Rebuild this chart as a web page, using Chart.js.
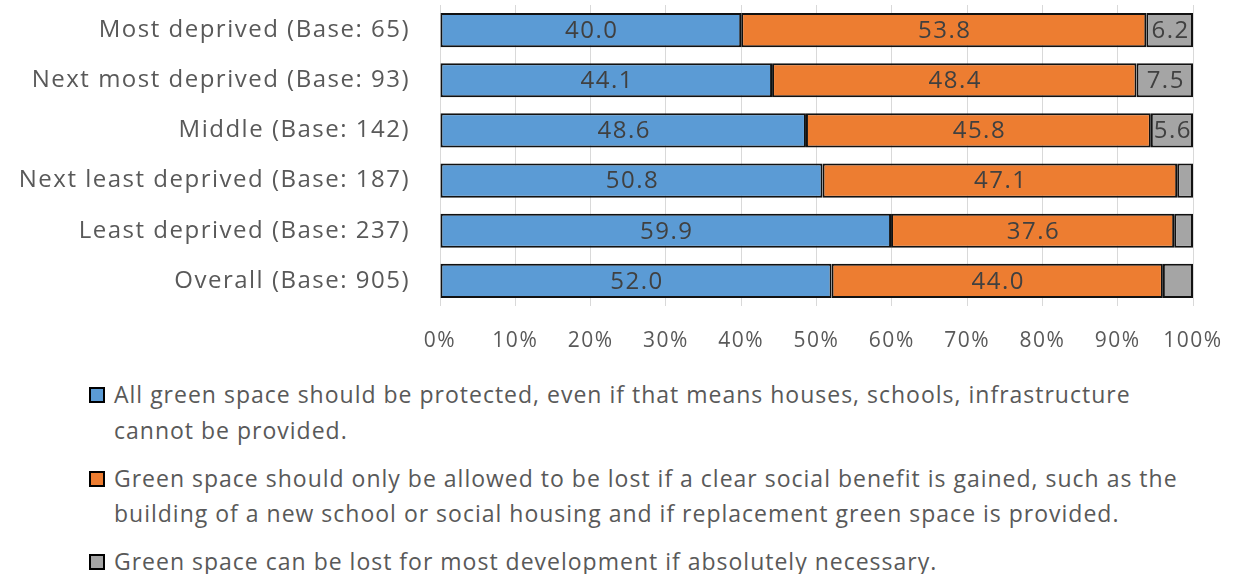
<!DOCTYPE html>
<html>
<head>
<meta charset="utf-8">
<script src="https://cdn.jsdelivr.net/npm/chart.js@4/dist/chart.umd.min.js"></script>
<style>
  html, body { margin: 0; padding: 0; background: #fff; }
  body { width: 1243px; height: 574px; overflow: hidden; font-family: "Open Sans", sans-serif; }
  #wrap { position: relative; width: 1243px; height: 362px; }
  #legend { position: absolute; left: 89px; top: 377px; color: #595959; font-size: 23px; line-height: 35.5px; letter-spacing: 1px; }
  .item { position: relative; padding-left: 25px; margin-bottom: 12.5px; white-space: nowrap; }
  .box { position: absolute; left: 0; top: 10px; width: 12px; height: 12px; border: 2px solid #000; }
</style>
</head>
<body>
<div id="wrap"><canvas id="c"></canvas></div>
<div id="legend"></div>
<script>
const categories = [
  "Most deprived (Base: 65)",
  "Next most deprived (Base: 93)",
  "Middle (Base: 142)",
  "Next least deprived (Base: 187)",
  "Least deprived (Base: 237)",
  "Overall (Base: 905)"
];
const protectAll = [40.0, 44.1, 48.6, 50.8, 59.9, 52.0];
const lostIfBenefit = [53.8, 48.4, 45.8, 47.1, 37.6, 44.0];
const lostIfNecessary = [6.2, 7.5, 5.6, 2.1, 2.5, 4.0];
const xTicks = [0, 10, 20, 30, 40, 50, 60, 70, 80, 90, 100];
const seriesNames = [
  "All green space should be protected, even if that means houses, schools, infrastructure\ncannot be provided.",
  "Green space should only be allowed to be lost if a clear social benefit is gained, such as the\nbuilding of a new school or social housing and if replacement green space is provided.",
  "Green space can be lost for most development if absolutely necessary."
];
const colors = ["#5B9BD5", "#ED7D31", "#A5A5A5"];

const FONT = "'Open Sans', sans-serif";

const spacingPlugin = {
  id: "spacing",
  beforeDraw(chart) { chart.ctx.letterSpacing = "1.5px"; }
};

const labelPlugin = {
  id: "barLabels",
  afterDatasetsDraw(chart) {
    const ctx = chart.ctx;
    ctx.save();
    ctx.font = "24px " + FONT;
    ctx.letterSpacing = "1.5px";
    ctx.fillStyle = "#404040";
    ctx.textAlign = "center";
    ctx.textBaseline = "middle";
    chart.data.datasets.forEach((ds, di) => {
      const meta = chart.getDatasetMeta(di);
      meta.data.forEach((el, i) => {
        const v = ds.data[i];
        if (v < 5) return;
        const p = el.getCenterPoint();
        ctx.fillText(v.toFixed(1), p.x + 1, p.y + 1);
      });
    });
    ctx.restore();
  }
};

const ds = [protectAll, lostIfBenefit, lostIfNecessary].map((d, i) => ({
  label: seriesNames[i],
  data: d,
  backgroundColor: colors[i],
  borderColor: "#111",
  borderWidth: 2,
  borderSkipped: false,
  barPercentage: 0.68,
  categoryPercentage: 1.0
}));

new Chart(document.getElementById("c"), {
  type: "bar",
  data: { labels: categories, datasets: ds },
  options: {
    indexAxis: "y",
    responsive: true,
    maintainAspectRatio: false,
    animation: false,
    layout: { padding: { top: 5, right: 50, left: 0, bottom: 0 } },
    plugins: { legend: { display: false }, tooltip: { enabled: false } },
    scales: {
      x: {
        stacked: true,
        min: 0, max: 100,
        afterBuildTicks(axis) { axis.ticks = xTicks.map(v => ({ value: v })); },
        grid: { color: "#D9D9D9", lineWidth: 1, drawTicks: false },
        border: { display: false },
        ticks: { callback: v => v + "%", color: "#595959", font: { family: FONT, size: 21 }, padding: 22, maxRotation: 0 },
        afterFit(axis) { axis.height = 56; }
      },
      y: {
        stacked: true,
        grid: { display: false, drawTicks: false },
        border: { display: false },
        ticks: { color: "#595959", font: { family: FONT, size: 24 }, padding: 30 },
        afterFit(axis) { axis.width = 440; axis.paddingTop = 0; axis.paddingBottom = 0; }
      }
    }
  },
  plugins: [spacingPlugin, labelPlugin]
});

const leg = document.getElementById("legend");
seriesNames.forEach((n, i) => {
  const d = document.createElement("div");
  d.className = "item";
  const b = document.createElement("span");
  b.className = "box";
  b.style.background = colors[i];
  d.appendChild(b);
  n.split("\n").forEach((line, j) => {
    if (j > 0) d.appendChild(document.createElement("br"));
    d.appendChild(document.createTextNode(line));
  });
  leg.appendChild(d);
});
</script>
</body>
</html>
